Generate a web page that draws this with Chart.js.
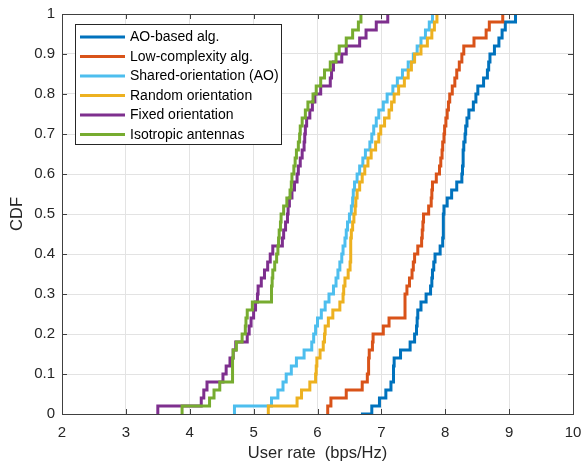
<!DOCTYPE html>
<html>
<head>
<meta charset="utf-8">
<script src="https://cdn.jsdelivr.net/npm/chart.js@4.4.1/dist/chart.umd.min.js"></script>
<style>
  html, body { margin: 0; padding: 0; background: #ffffff; }
  #wrap { width: 581px; height: 464px; }
</style>
</head>
<body>
<div id="wrap"><canvas id="c" width="581" height="464"></canvas></div>
<script>
// CDF levels (0, 0.02, ..., 1)
const cdfLevels = [0,0.02,0.04,0.06,0.08,0.10,0.12,0.14,0.16,0.18,0.20,0.22,0.24,0.26,0.28,0.30,0.32,0.34,0.36,0.38,0.40,0.42,0.44,0.46,0.48,0.50,0.52,0.54,0.56,0.58,0.60,0.62,0.64,0.66,0.68,0.70,0.72,0.74,0.76,0.78,0.80,0.82,0.84,0.86,0.88,0.90,0.92,0.94,0.96,0.98,1.00];

const seriesNames = ['AO-based alg.', 'Low-complexity alg.', 'Shared-orientation (AO)', 'Random orientation', 'Fixed orientation', 'Isotropic antennas'];

// user rate (bps/Hz) reached at each CDF level
const aoBased = [6.68,6.85,6.97,7.07,7.15,7.19,7.19,7.20,7.30,7.45,7.52,7.55,7.56,7.57,7.62,7.70,7.77,7.79,7.80,7.82,7.84,7.92,7.96,7.97,7.97,7.97,7.98,8.03,8.10,8.18,8.26,8.27,8.28,8.28,8.29,8.31,8.32,8.34,8.37,8.44,8.48,8.51,8.60,8.66,8.68,8.70,8.77,8.84,8.89,8.94,9.10];
const lowComplexity = [6.14,6.16,6.21,6.45,6.70,6.78,6.80,6.80,6.81,6.86,6.87,7.03,7.12,7.37,7.37,7.37,7.40,7.44,7.48,7.50,7.52,7.57,7.63,7.64,7.65,7.66,7.74,7.78,7.79,7.80,7.86,7.91,7.93,7.95,7.96,7.98,7.99,8.01,8.03,8.05,8.07,8.11,8.15,8.18,8.22,8.26,8.29,8.45,8.64,8.69,8.90];
const sharedOrientation = [4.68,4.70,5.28,5.38,5.46,5.51,5.59,5.67,5.79,5.91,5.94,5.97,6.00,6.06,6.12,6.18,6.25,6.29,6.32,6.35,6.38,6.40,6.43,6.45,6.47,6.50,6.53,6.55,6.56,6.58,6.62,6.66,6.71,6.75,6.82,6.85,6.88,6.92,6.96,7.03,7.09,7.18,7.25,7.33,7.42,7.50,7.56,7.62,7.69,7.75,7.80];
const randomOrientation = [5.22,5.23,5.68,5.75,5.88,5.97,5.98,5.99,6.04,6.09,6.11,6.12,6.17,6.24,6.35,6.40,6.41,6.43,6.48,6.51,6.52,6.52,6.52,6.53,6.55,6.57,6.59,6.60,6.62,6.66,6.70,6.74,6.79,6.84,6.91,6.96,6.99,7.05,7.12,7.16,7.20,7.27,7.36,7.42,7.47,7.52,7.62,7.72,7.79,7.83,7.87];
const fixedOrientation = [3.49,3.50,4.18,4.22,4.27,4.52,4.57,4.63,4.68,4.72,4.90,4.93,4.96,5.00,5.03,5.06,5.07,5.12,5.17,5.22,5.26,5.30,5.45,5.47,5.50,5.53,5.54,5.56,5.60,5.64,5.68,5.70,5.73,5.76,5.79,5.80,5.81,5.83,5.88,5.92,5.96,6.05,6.20,6.22,6.25,6.38,6.45,6.66,6.76,6.92,7.10];
const isotropic = [3.87,3.88,4.31,4.38,4.47,4.67,4.67,4.67,4.68,4.73,4.82,4.87,4.88,4.90,4.98,5.28,5.28,5.29,5.30,5.33,5.36,5.38,5.39,5.40,5.42,5.43,5.47,5.52,5.57,5.59,5.60,5.63,5.65,5.67,5.70,5.72,5.73,5.76,5.81,5.85,5.93,5.98,6.05,6.11,6.20,6.29,6.34,6.45,6.55,6.64,6.68];

const xTickValues = [2,3,4,5,6,7,8,9,10];
const yTickLabels = ['0','0.1','0.2','0.3','0.4','0.5','0.6','0.7','0.8','0.9','1'];

const xTitle = 'User rate  (bps/Hz)';
const yTitle = 'CDF';

const colors = ['#0072BD', '#D95319', '#4DBEEE', '#EDB120', '#7E2F8E', '#77AC30'];
const allSeries = [aoBased, lowComplexity, sharedOrientation, randomOrientation, fixedOrientation, isotropic];

const FONT = '"Liberation Sans", Arial, Helvetica, sans-serif';

const datasets = allSeries.map((xs, i) => ({
  label: seriesNames[i],
  data: xs.map((x, k) => ({ x: x, y: cdfLevels[k] })),
  borderColor: colors[i],
  backgroundColor: colors[i],
  borderWidth: 3,
  pointRadius: 0,
  stepped: 'before',
  fill: false,
  order: allSeries.length - i
}));

const boxPlugin = {
  id: 'matlabBox',
  afterDatasetsDraw(chart) {
    const { ctx, chartArea: a, scales } = chart;
    ctx.save();
    ctx.strokeStyle = '#404040';
    ctx.lineWidth = 1;
    const tl = 5;
    ctx.beginPath();
    xTickValues.forEach(v => {
      const px = Math.round(scales.x.getPixelForValue(v)) + 0.5;
      ctx.moveTo(px, a.bottom); ctx.lineTo(px, a.bottom - tl);
      ctx.moveTo(px, a.top); ctx.lineTo(px, a.top + tl);
    });
    yTickLabels.forEach((lab, i) => {
      const py = Math.round(scales.y.getPixelForValue(i / 10)) + 0.5;
      ctx.moveTo(a.left, py); ctx.lineTo(a.left + tl, py);
      ctx.moveTo(a.right, py); ctx.lineTo(a.right - tl, py);
    });
    ctx.stroke();
    ctx.strokeRect(Math.round(a.left) + 0.5, Math.round(a.top) + 0.5,
                   Math.round(a.right - a.left), Math.round(a.bottom - a.top));
    ctx.restore();
  },
  afterDraw(chart) {
    const { ctx } = chart;
    const bx = 75.5, by = 24.5, bw = 206, bh = 120;
    ctx.save();
    ctx.fillStyle = '#ffffff';
    ctx.fillRect(bx, by, bw, bh);
    ctx.strokeStyle = '#262626';
    ctx.lineWidth = 1;
    ctx.strokeRect(bx, by, bw, bh);
    ctx.font = '14px ' + FONT;
    ctx.textBaseline = 'middle';
    ctx.textAlign = 'left';
    seriesNames.forEach((name, i) => {
      const y = 37 + i * 19.5;
      ctx.strokeStyle = colors[i];
      ctx.lineWidth = 3;
      ctx.beginPath();
      ctx.moveTo(80, y);
      ctx.lineTo(125, y);
      ctx.stroke();
      ctx.fillStyle = '#000000';
      ctx.fillText(name, 130, y + 0.5);
    });
    ctx.restore();
  }
};

new Chart(document.getElementById('c'), {
  type: 'line',
  data: { datasets },
  options: {
    responsive: false,
    animation: false,
    devicePixelRatio: 1,
    layout: { padding: { top: 14, right: 8, left: 0, bottom: 0 } },
    plugins: { legend: { display: false }, tooltip: { enabled: false } },
    scales: {
      x: {
        type: 'linear',
        min: 2, max: 10,
        afterFit(s) { s.height = 50; s.paddingLeft = 0; s.paddingRight = 0; },
        afterBuildTicks(s) { s.ticks = xTickValues.map(v => ({ value: v })); },
        ticks: {
          color: '#262626',
          font: { family: FONT, size: 15 },
          padding: 10,
          maxRotation: 0,
          callback: (v) => String(v)
        },
        grid: { color: '#e3e3e3', lineWidth: 1, drawTicks: false },
        border: { display: false },
        title: {
          display: true, text: xTitle, color: '#262626',
          font: { family: FONT, size: 16.5 },
          padding: { top: 0, bottom: 1 }
        }
      },
      y: {
        type: 'linear',
        min: 0, max: 1,
        afterFit(s) { s.width = 62; s.paddingTop = 0; s.paddingBottom = 0; },
        afterBuildTicks(s) { s.ticks = yTickLabels.map((l, i) => ({ value: i / 10 })); },
        ticks: {
          color: '#262626',
          font: { family: FONT, size: 15 },
          padding: 7,
          callback: (v, i) => yTickLabels[i]
        },
        grid: { color: '#e3e3e3', lineWidth: 1, drawTicks: false },
        border: { display: false },
        title: {
          display: true, text: yTitle, color: '#262626',
          font: { family: FONT, size: 16.5 },
          padding: { top: 8, bottom: 0 }
        }
      }
    }
  },
  plugins: [boxPlugin]
});
</script>
</body>
</html>
